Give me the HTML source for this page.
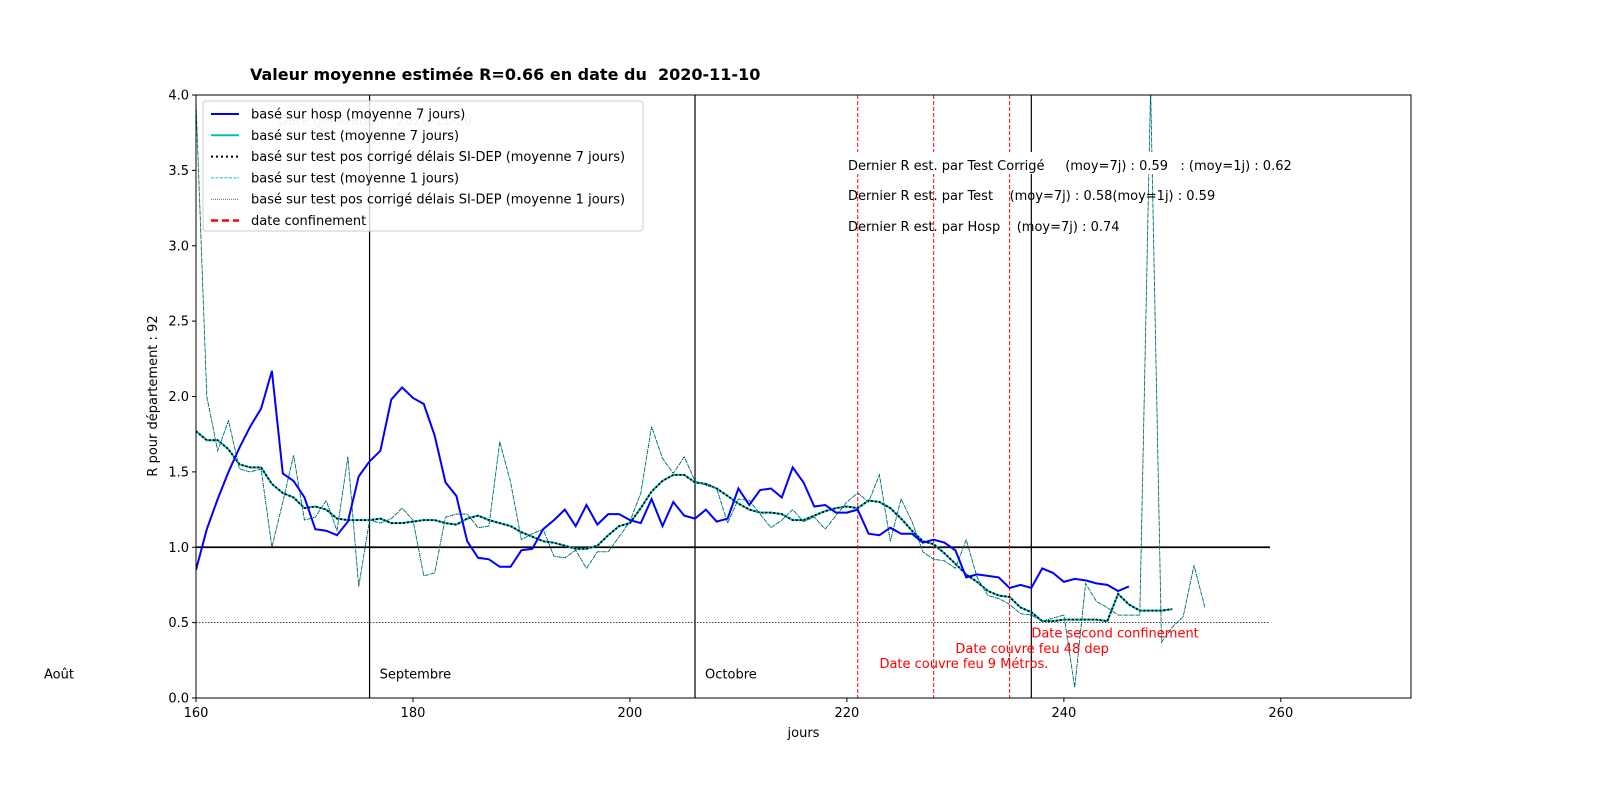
<!DOCTYPE html>
<html><head><meta charset="utf-8"><style>
html,body{margin:0;padding:0;background:#fff;width:1600px;height:800px;overflow:hidden;}
svg{display:block;position:absolute;left:0;top:0;font-family:"DejaVu Sans","Liberation Sans",sans-serif;}
text{white-space:pre;}
</style></head><body>
<svg id="chart" width="1600" height="800" viewBox="0 0 1600 800" xmlns="http://www.w3.org/2000/svg"></svg>
<script>
const hospStart = 160;
const hospR = [0.85,1.12,1.32,1.5,1.66,1.8,1.92,2.17,1.49,1.44,1.33,1.12,1.11,1.08,1.17,1.47,1.57,1.64,1.98,2.06,1.99,1.95,1.74,1.43,1.34,1.04,0.93,0.92,0.87,0.87,0.98,0.99,1.12,1.18,1.25,1.14,1.28,1.15,1.22,1.22,1.18,1.16,1.32,1.14,1.3,1.21,1.19,1.25,1.17,1.19,1.39,1.28,1.38,1.39,1.33,1.53,1.43,1.27,1.28,1.23,1.23,1.25,1.09,1.08,1.13,1.09,1.09,1.03,1.05,1.03,0.98,0.8,0.82,0.81,0.8,0.73,0.75,0.73,0.86,0.83,0.77,0.79,0.78,0.76,0.75,0.71,0.74];
const test7R = [1.77,1.71,1.71,1.65,1.55,1.53,1.53,1.42,1.36,1.33,1.26,1.27,1.25,1.19,1.18,1.18,1.18,1.19,1.16,1.16,1.17,1.18,1.18,1.16,1.15,1.19,1.21,1.18,1.16,1.14,1.1,1.07,1.04,1.03,1.01,0.99,0.99,1.01,1.08,1.14,1.16,1.26,1.37,1.44,1.48,1.48,1.43,1.42,1.39,1.34,1.29,1.25,1.23,1.23,1.22,1.18,1.18,1.21,1.24,1.26,1.27,1.26,1.31,1.3,1.26,1.19,1.11,1.04,1.02,0.96,0.89,0.82,0.77,0.71,0.68,0.67,0.6,0.57,0.51,0.51,0.52,0.52,0.52,0.52,0.51,0.69,0.62,0.58,0.58,0.58,0.59];
const test7CorrR = test7R.slice();
const test1R = [3.95,2.0,1.64,1.84,1.52,1.5,1.52,1.0,1.3,1.61,1.18,1.2,1.31,1.11,1.6,0.74,1.18,1.16,1.19,1.26,1.18,0.81,0.83,1.2,1.22,1.22,1.13,1.14,1.7,1.43,1.05,1.09,1.12,0.94,0.93,0.98,0.86,0.97,0.97,1.07,1.17,1.36,1.8,1.59,1.49,1.6,1.44,1.41,1.39,1.16,1.32,1.31,1.22,1.13,1.18,1.25,1.17,1.2,1.12,1.21,1.3,1.36,1.3,1.48,1.04,1.32,1.17,0.97,0.92,0.91,0.86,1.05,0.8,0.68,0.66,0.62,0.56,0.55,0.51,0.53,0.55,0.07,0.76,0.64,0.6,0.55,0.55,0.55,4.05,0.37,0.47,0.54,0.88,0.6];
const test1CorrR = test1R.slice();
const monthDays = [176,206,237];
const monthLabels = ["Septembre","Octobre",""];
const curfewDays = [221,228,235];
const xTicks = [160,180,200,220,240,260];
const yTicks = [0,0.5,1,1.5,2,2.5,3,3.5,4];

const L=196,R=1411,T=95,B=698, X0=160,X1=272, Y0=0,Y1=4;
const xs=d=>L+(d-X0)/(X1-X0)*(R-L);
const ys=v=>B-(v-Y0)/(Y1-Y0)*(B-T);
const svg=document.getElementById('chart');
const NS='http://www.w3.org/2000/svg';
function mk(tag,attrs,parent){const e=document.createElementNS(NS,tag);for(const k in attrs)e.setAttribute(k,attrs[k]);(parent||svg).appendChild(e);return e;}
function txt(s,attrs,parent){const e=mk('text',attrs,parent);e.textContent=s;return e;}

const defs=mk('defs',{});const cp=mk('clipPath',{id:'pc'},defs);mk('rect',{x:L,y:T,width:R-L,height:B-T},cp);

const t=txt('Valeur moyenne estimée R=0.66 en date du  2020-11-10',{x:250,y:80,'font-size':16,'font-weight':'bold'});



const plot=mk('g',{'clip-path':'url(#pc)'});



const gd=txt('Date génération : 2020-11-26',{x:278,y:125,'font-size':13,fill:'#bbb'},plot);



const h1=mk('line',{x1:xs(160),x2:xs(259),y1:ys(1),y2:ys(1),stroke:'#000','stroke-width':1.8},plot);


const h05=mk('line',{x1:xs(160),x2:xs(259),y1:ys(0.5),y2:ys(0.5),stroke:'#000','stroke-width':0.8,'stroke-dasharray':'1.5,1.5'},plot);



monthDays.forEach((d,i)=>{
  const l=mk('line',{x1:xs(d),x2:xs(d),y1:T,y2:B,stroke:'#000','stroke-width':1.2},plot);
  
  
  if(monthLabels[i]){const m=txt(monthLabels[i],{x:xs(d)+10,y:ys(0.13),'font-size':13},plot);
  
  }
});
curfewDays.forEach(d=>{
  const l=mk('line',{x1:xs(d),x2:xs(d),y1:T,y2:B,stroke:'red','stroke-width':1,'stroke-dasharray':'4,2'},plot);
  
  
});
const aout=txt('Août',{x:44,y:ys(0.13),'font-size':13});



function series(arr,start,attrs,name){
  const pts=arr.map((v,i)=>xs(start+i).toFixed(1)+','+ys(v).toFixed(1)).join(' ');
  const p=mk('polyline',Object.assign({points:pts,fill:'none'},attrs),plot);
  
  
}
series(test7R,160,{stroke:'#00bfbf','stroke-width':2},'test-7j-line');
series(test7CorrR,160,{stroke:'#000','stroke-width':1.8,'stroke-dasharray':'2,2'},'test-corrige-7j-line');
series(test1R,160,{stroke:'#00bfbf','stroke-width':1,'stroke-dasharray':'4,2'},'test-1j-line');
series(test1CorrR,160,{stroke:'#000','stroke-width':0.6,'stroke-dasharray':'1,1'},'test-corrige-1j-line');
series(hospR,hospStart,{stroke:'#0000ff','stroke-width':2},'hosp-7j-line');

[['Date second confinement',237,0.4],['Date couvre feu 48 dep',230,0.3],['Date couvre feu 9 Métros.',223,0.2]].forEach(a=>{
  const e=txt(a[0],{x:xs(a[1]),y:ys(a[2]),'font-size':13,fill:'red'});
  
  
});

mk('rect',{x:845,y:152,width:470,height:22,fill:'#fff'});
[['Dernier R est. par Test Corrigé     (moy=7j) : 0.59   : (moy=1j) : 0.62',170],['Dernier R est. par Test    (moy=7j) : 0.58(moy=1j) : 0.59',200],['Dernier R est. par Hosp    (moy=7j) : 0.74',231]].forEach(a=>{
  const e=txt(a[0],{x:848,y:a[1],'font-size':13});
  
  
});

const fr=mk('rect',{x:L,y:T,width:R-L,height:B-T,fill:'none',stroke:'#000','stroke-width':1});


xTicks.forEach(v=>{
  mk('line',{x1:xs(v),x2:xs(v),y1:B,y2:B+4,stroke:'#000'});
  const e=txt(String(v),{x:xs(v),y:B+19,'font-size':13,'text-anchor':'middle'});
  
  
});
yTicks.forEach(v=>{
  mk('line',{x1:L-4,x2:L,y1:ys(v),y2:ys(v),stroke:'#000'});
  const e=txt(v.toFixed(1),{x:L-7,y:ys(v)+4.5,'font-size':13,'text-anchor':'end'});
  
  
});
const xt=txt('jours',{x:(L+R)/2,y:737,'font-size':13,'text-anchor':'middle'});


const yt=txt('R pour département : 92',{x:0,y:0,'font-size':13,'text-anchor':'middle',transform:'translate(157,396) rotate(-90)'});



const lg=mk('g',{});


mk('rect',{x:203,y:101,width:440,height:130,rx:3,fill:'rgba(255,255,255,0.8)',stroke:'#ccc'},lg);
const items=[['basé sur hosp (moyenne 7 jours)',{stroke:'#0000ff','stroke-width':2}],
['basé sur test (moyenne 7 jours)',{stroke:'#00bfbf','stroke-width':2}],
['basé sur test pos corrigé délais SI-DEP (moyenne 7 jours)',{stroke:'#000','stroke-width':2,'stroke-dasharray':'2,3'}],
['basé sur test (moyenne 1 jours)',{stroke:'#00bfbf','stroke-width':1,'stroke-dasharray':'3,1.5'}],
['basé sur test pos corrigé délais SI-DEP (moyenne 1 jours)',{stroke:'#000','stroke-width':0.7,'stroke-dasharray':'1,1'}],
['date confinement',{stroke:'red','stroke-width':2.5,'stroke-dasharray':'7,4'}]];
items.forEach((it,i)=>{
  const y=114+i*21.3;
  const g=mk('g',{},lg);
  
  
  mk('line',Object.assign({x1:211,x2:239,y1:y,y2:y},it[1]),g);
  txt(it[0],{x:251,y:y+4.5,'font-size':13},g);
});
</script>
</body></html>
